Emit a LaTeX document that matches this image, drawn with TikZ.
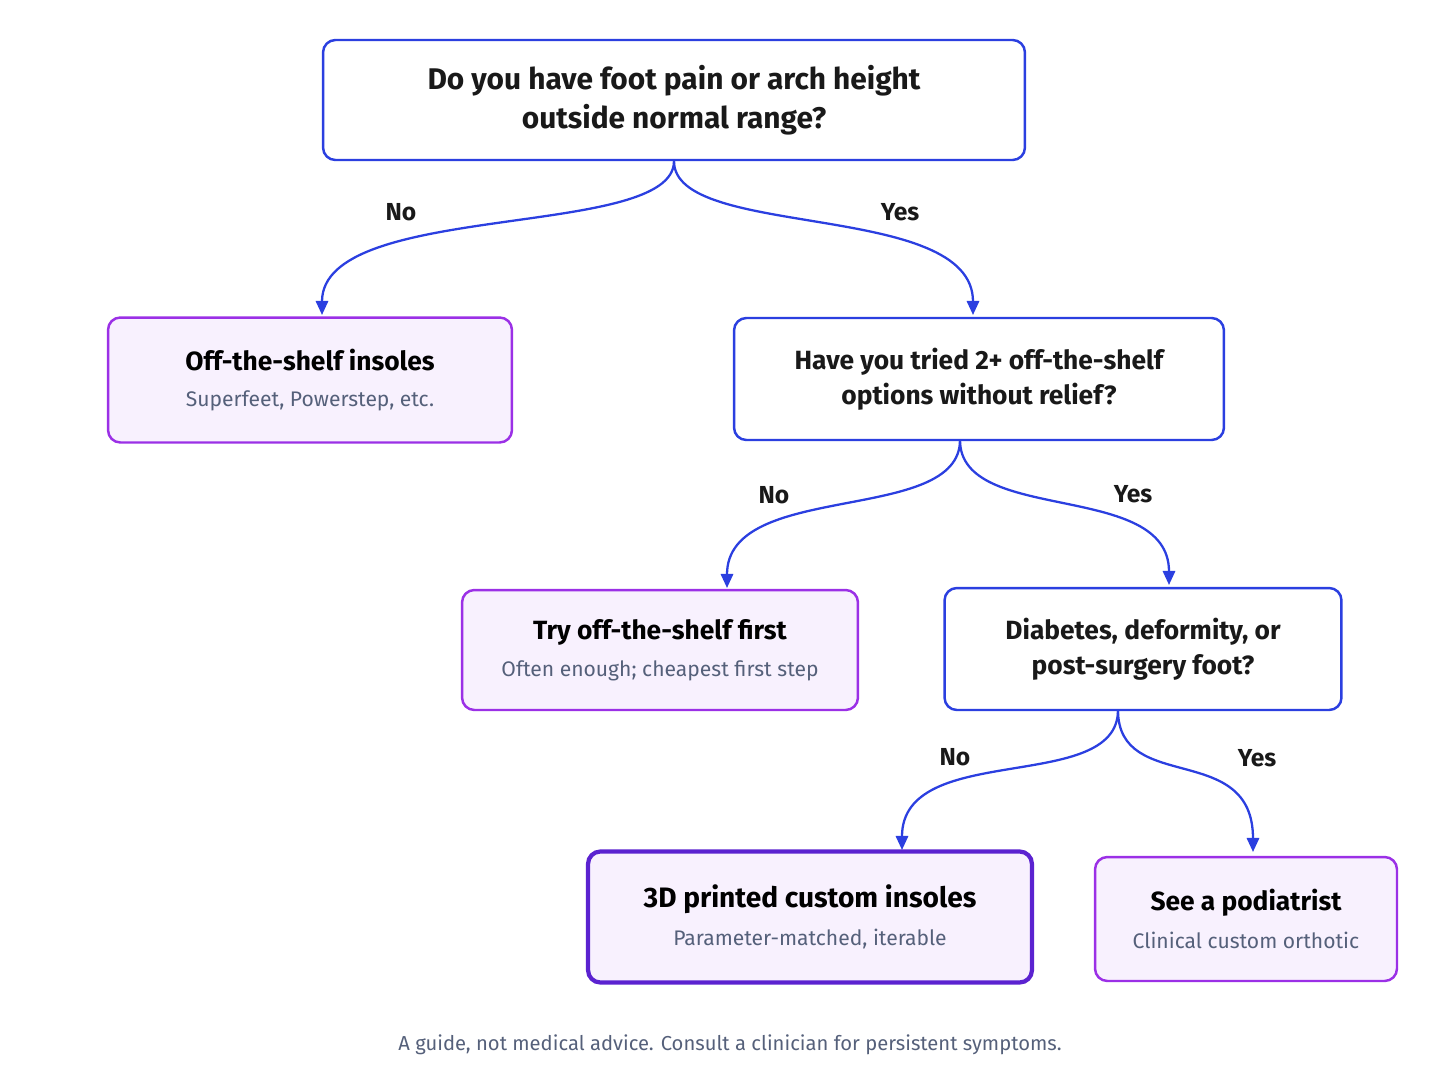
\documentclass[tikz,border=0pt]{standalone}
\usepackage{fontspec}
\setmainfont{Fira Sans}
\usetikzlibrary{arrows.meta,positioning}
\definecolor{qblue}{HTML}{2B3FE0}
\definecolor{leafpurple}{HTML}{9B30E6}
\definecolor{leaffill}{HTML}{F8F1FE}
\definecolor{subgray}{HTML}{55607A}
\definecolor{bestpurple}{HTML}{5B22D0}
\begin{document}
\begin{tikzpicture}[x=0.02cm, y=-0.02cm, >={Triangle[width=7pt,length=8pt]},
    question/.style={draw=qblue, line width=1.4pt, rounded corners=7pt, fill=white, align=center, font=\fontsize{17}{22}\selectfont\bfseries, text=black!90},
    leaf/.style={draw=leafpurple, line width=1.4pt, rounded corners=7pt, fill=leaffill, align=center},
    branch/.style={-{Triangle[width=7pt,length=8pt,fill=qblue]}, draw=qblue, line width=1.3pt},
    answer/.style={font=\fontsize{14}{16}\selectfont\bfseries, text=black!90}]
    % Page
    \useasboundingbox (0,0) rectangle (1448,1086);

    % Questions
    \node[question, minimum width=14.04cm, minimum height=2.4cm] (q1) at (674,100) {Do you have foot pain or arch height\\outside normal range?};
    \node[question, minimum width=9.8cm, minimum height=2.44cm, font=\fontsize{15}{20}\selectfont\bfseries] (q2) at (979,379) {Have you tried 2+ off-the-shelf\\options without relief?};
    \node[question, minimum width=7.94cm, minimum height=2.44cm, font=\fontsize{15}{20}\selectfont\bfseries] (q3) at (1143,649) {Diabetes, deformity, or\\post-surgery foot?};

    % Outcomes
    \node[leaf, minimum width=8.08cm, minimum height=2.5cm] (shelf) at (310,380) {{\fontsize{15}{18}\selectfont\bfseries Off-the-shelf insoles}\\[8pt]{\fontsize{12}{14}\selectfont\color{subgray}Superfeet, Powerstep, etc.}};
    \node[leaf, minimum width=7.92cm, minimum height=2.4cm] (try) at (660,650) {{\fontsize{15}{18}\selectfont\bfseries Try off-the-shelf first}\\[8pt]{\fontsize{12}{14}\selectfont\color{subgray}Often enough; cheapest first step}};
    \node[leaf, draw=bestpurple, line width=2.4pt, minimum width=8.88cm, minimum height=2.62cm] (print) at (810,917) {{\fontsize{16}{18}\selectfont\bfseries 3D printed custom insoles}\\[8pt]{\fontsize{12}{14}\selectfont\color{subgray}Parameter-matched, iterable}};
    \node[leaf, minimum width=6.04cm, minimum height=2.48cm] (podiatrist) at (1246,919) {{\fontsize{15}{18}\selectfont\bfseries See a podiatrist}\\[8pt]{\fontsize{12}{14}\selectfont\color{subgray}Clinical custom orthotic}};

    % Arrow ends
    \coordinate (q1no) at (322,315);
    \coordinate (q1yes) at (973,315);
    \coordinate (q2out) at (960,440);
    \coordinate (q2no) at (727,588);
    \coordinate (q2yes) at (1169,585);
    \coordinate (q3out) at (1118,710);
    \coordinate (q3no) at (902,850);
    \coordinate (q3yes) at (1253,852);

    % Branches
    \draw[branch] (q1.south) .. controls (674,240) and (322,200) .. (q1no);
    \draw[branch] (q1.south) .. controls (674,240) and (973,200) .. (q1yes);
    \draw[branch] (q2out) .. controls (960,525) and (727,480) .. (q2no);
    \draw[branch] (q2out) .. controls (960,525) and (1169,480) .. (q2yes);
    \draw[branch] (q3out) .. controls (1118,795) and (902,740) .. (q3no);
    \draw[branch] (q3out) .. controls (1118,795) and (1253,740) .. (q3yes);

    % Answers
    \node[answer] (a1no) at (401,212) {No};
    \node[answer] (a1yes) at (900,212) {Yes};
    \node[answer] (a2no) at (774,495) {No};
    \node[answer] (a2yes) at (1133,494) {Yes};
    \node[answer] (a3no) at (955,757) {No};
    \node[answer] (a3yes) at (1257,758) {Yes};

    % Note
    \node[font=\fontsize{11.5}{14}\selectfont, text=subgray] (note) at (730,1045) {A guide, not medical advice. Consult a clinician for persistent symptoms.};
\end{tikzpicture}
\end{document}
